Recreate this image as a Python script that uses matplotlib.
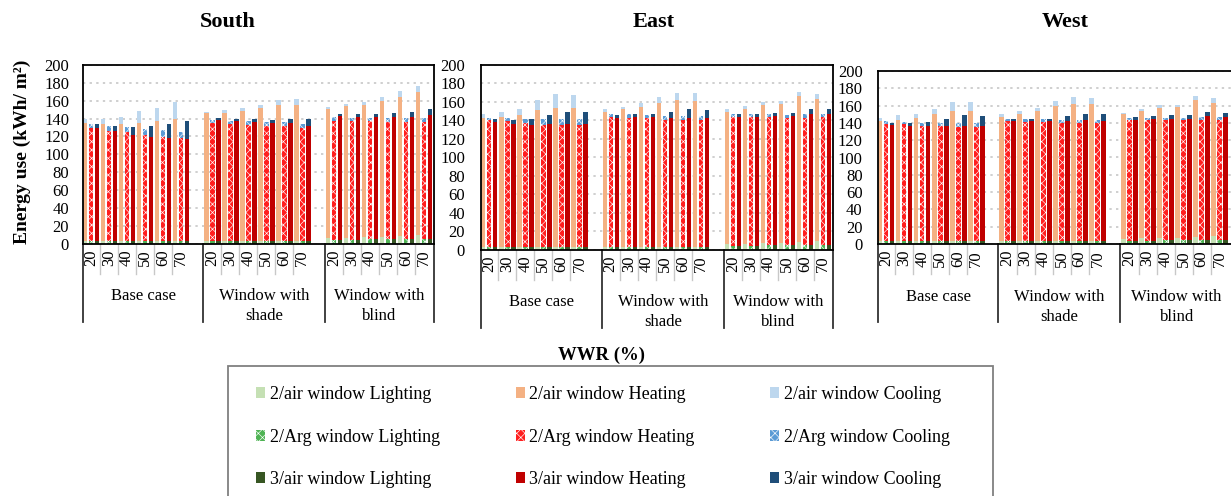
import matplotlib
matplotlib.use('Agg')
import matplotlib.pyplot as plt
from matplotlib.patches import Patch, Rectangle
from matplotlib.lines import Line2D
import matplotlib.transforms as mtransforms
import numpy as np

plt.rcParams['font.family'] = ['Liberation Serif', 'DejaVu Serif']
plt.rcParams['hatch.linewidth'] = 0.45

# ---------------- data ----------------
panels = ['South', 'East', 'West']
wwr_labels = ['20', '30', '40', '50', '60', '70']
group_labels = ['Base case', 'Window with\nshade', 'Window with\nblind']
windows = ['2/air window', '2/Arg window', '3/air window']
components = ['Lighting', 'Heating', 'Cooling']

# each list: Base case (20..70), Window with shade (20..70), Window with blind (20..70)
south_2air_light = [3, 3, 3, 3, 3, 3, 3, 3, 3, 3, 3, 3, 6, 6.5, 7, 7.5, 8.5, 9]
south_2air_heat = [132, 131, 130.5, 131.5, 134, 137, 143, 143, 146, 149, 152.5, 152.5, 144.5, 148, 148, 152.1, 155.7, 161.3]
south_2air_cool = [5, 6, 8.5, 13.5, 15, 18, 1.5, 4, 3, 3.5, 5, 6.5, 2, 1.7, 3.9, 5, 6.8, 6.7]
south_2arg_light = [3, 3, 3, 3, 3, 3, 3, 3, 3, 3, 3, 3, 4, 4, 4.5, 4.5, 5, 5]
south_2arg_heat = [126, 123.5, 121.5, 119, 116.5, 115.3, 132, 130.5, 129.5, 128.2, 128.2, 126.2, 133.5, 132.8, 132.3, 131.5, 130.6, 130.6]
south_2arg_cool = [4.5, 5, 5.5, 6, 7.7, 6.7, 3.8, 4.1, 5, 4.8, 4.8, 4.5, 3.9, 4.2, 4.2, 4.6, 5, 5]
south_3air_light = [3, 3, 3, 3, 3, 3, 3, 3, 3, 3, 3, 3, 4, 4, 4.5, 4.5, 5, 5]
south_3air_heat = [126, 122.5, 119, 116, 115.5, 114.4, 135, 133.7, 132.8, 132.2, 132, 129, 139, 138.1, 137.2, 136.8, 136.7, 138.6]
south_3air_cool = [4.5, 5.7, 8.5, 12.5, 15, 19.6, 3, 3.3, 3.5, 3.4, 5, 7, 2, 3, 3.4, 4.6, 5.7, 6.9]

east_2air_light = [3, 3, 3, 3, 3, 3, 3, 3, 3, 3, 3, 3, 6, 6.5, 7, 7.5, 8.5, 9]
east_2air_heat = [140, 140.5, 143, 148.5, 150.6, 150.6, 146, 148.9, 151.5, 155.5, 159, 158, 143.4, 146.1, 149.6, 149.9, 157.6, 153.8]
east_2air_cool = [4, 5.7, 6.8, 11.1, 14.6, 13.4, 2.9, 2.9, 4.7, 7.3, 8, 8.4, 2.9, 3.3, 3.7, 3.6, 5.1, 5.5]
east_2arg_light = [3, 3, 3, 3, 3, 3, 3, 3, 3, 3, 3, 3, 4, 4, 4.5, 4.5, 5, 5]
east_2arg_heat = [137.3, 135.8, 134.5, 132.4, 132, 132, 140.5, 140, 139.8, 137.6, 137.6, 137, 139.9, 139.2, 138.7, 138.3, 137.8, 138.5]
east_2arg_cool = [2.5, 4, 4.3, 5.6, 6, 6, 2.9, 3.4, 2.9, 4, 4, 4.6, 3.3, 3.2, 3.2, 3.2, 3.6, 3.7]
east_3air_light = [3, 3, 3, 3, 3, 3, 3, 3, 3, 3, 3, 3, 4, 4, 4.5, 4.5, 5, 5]
east_3air_heat = [135, 133.3, 132.4, 132.8, 133.3, 133.3, 139.8, 140.2, 140.5, 139.8, 139.8, 139.8, 139.9, 139.9, 140.1, 140.1, 142.2, 141.4]
east_3air_cool = [3.6, 4.5, 5.9, 10.3, 13.1, 13.1, 2.6, 3.2, 3.7, 6.6, 9.1, 8, 3.3, 3.3, 3.3, 3.7, 5.4, 5.5]

west_2air_light = [3, 3, 3, 3, 3, 3, 3, 3, 3, 3, 3, 3, 6, 6.5, 7, 7.5, 8.5, 9]
west_2air_heat = [139.3, 140.8, 143.2, 147.8, 150.8, 150.8, 143.9, 147.8, 150.8, 156.2, 159.3, 159.3, 144, 147.3, 150.7, 151, 157.7, 154.5]
west_2air_cool = [3.5, 5, 4.6, 5.7, 10.4, 10.4, 3.1, 3, 3.9, 5.8, 7.7, 6.9, 1.9, 2, 2.7, 2.7, 5.3, 5.3]
west_2arg_light = [3, 3, 3, 3, 3, 3, 3, 3, 3, 3, 3, 3, 4, 4, 4.5, 4.5, 5, 5]
west_2arg_heat = [136.2, 135.5, 133.5, 133.2, 132.4, 132.4, 138.9, 138.2, 138.2, 137, 137, 137, 139.1, 139.1, 138.6, 138.6, 138.1, 138.1]
west_2arg_cool = [3.1, 2.7, 3.9, 4.2, 5, 5, 3.1, 3.8, 3, 3.8, 3.8, 3.8, 3.1, 3.1, 3.1, 3.1, 3.8, 3.8]
west_3air_light = [3, 3, 3, 3, 3, 3, 3, 3, 3, 3, 3, 3, 4, 4, 4.5, 4.5, 5, 5]
west_3air_heat = [134.3, 133.2, 133.2, 133.2, 133.5, 133.5, 139.3, 139.3, 139.3, 139.3, 140.1, 139.3, 139.8, 140.2, 140.5, 140.5, 142.7, 141.9]
west_3air_cool = [3.1, 4.2, 5, 8.8, 12.3, 11.2, 1.9, 2.7, 2.7, 6.2, 7.7, 7.7, 3.1, 3.5, 3.8, 4.6, 5, 5]

panel_data = {
    'South': [(south_2air_light, south_2air_heat, south_2air_cool),
              (south_2arg_light, south_2arg_heat, south_2arg_cool),
              (south_3air_light, south_3air_heat, south_3air_cool)],
    'East': [(east_2air_light, east_2air_heat, east_2air_cool),
             (east_2arg_light, east_2arg_heat, east_2arg_cool),
             (east_3air_light, east_3air_heat, east_3air_cool)],
    'West': [(west_2air_light, west_2air_heat, west_2air_cool),
             (west_2arg_light, west_2arg_heat, west_2arg_cool),
             (west_3air_light, west_3air_heat, west_3air_cool)],
}

# ---------------- styles ----------------
styles = [
    [('#c5e0b4', None), ('#f4b183', None), ('#bdd7ee', None)],
    [('#4fb354', 'xxxx'), ('#ff1f1f', 'xxxx'), ('#5b9bd5', 'xxxx')],
    [('#375623', None), ('#c00000', None), ('#1f4e79', None)],
]

W, H = 1231, 496
fig = plt.figure(figsize=(W / 100, H / 100), dpi=100)

def fx(px):
    return px / W

def fy(py):
    return 1 - py / H

# axes rect in pixels: left, top, right, bottom
axes_px = {'South': (83, 65, 434, 243.5), 'East': (481, 65, 833, 249.5), 'West': (878, 71, 1233, 244)}
xmax = {'South': 58.5, 'East': 58.5, 'West': 59.1}
title_px = {'South': (228, 22), 'East': (654, 22), 'West': (1065, 22)}
sep_bottom_px = {'South': 322, 'East': 328, 'West': 322}
label_pad_pt = {'South': 10, 'East': 11.5, 'West': 11}
group_off = [0.0, 20.2, 40.5]
bar_w = 0.74

for p in panels:
    l, t, r, b = axes_px[p]
    ax = fig.add_axes([fx(l), fy(b), fx(r) - fx(l), (b - t) / H])
    hpx = b - t
    ax.set_xlim(0, xmax[p])
    ax.set_ylim(0, 200)
    ax.set_yticks(np.arange(0, 201, 20))
    ax.set_xticks([])
    ax.tick_params(axis='y', length=0, pad=label_pad_pt[p], labelsize=12)
    ax.yaxis.grid(True, color='#cfcfcf', linestyle=(0, (1.2, 2.2)), linewidth=1.4)
    ax.set_axisbelow(True)
    for s in ax.spines.values():
        s.set_linewidth(1.3)
        s.set_color('black')

    for wi, (light, heat, cool) in enumerate(panel_data[p]):
        xs = np.array([group_off[i // 6] + 3 * (i % 6) + wi for i in range(18)]) + bar_w / 2
        light = np.array(light, float)
        heat = np.array(heat, float)
        cool = np.array(cool, float)
        bottoms = [np.zeros(18), light, light + heat]
        for ci, vals in enumerate([light, heat, cool]):
            col, hatch = styles[wi][ci]
            if hatch:
                ax.bar(xs, vals, bar_w, bottom=bottoms[ci], color=col, edgecolor='white',
                       linewidth=0, hatch=hatch, zorder=2)
            else:
                ax.bar(xs, vals, bar_w, bottom=bottoms[ci], color=col, edgecolor='none',
                       linewidth=0, zorder=2)

    trans = mtransforms.blended_transform_factory(ax.transData, ax.transAxes)
    # category labels and ticks
    for g in range(3):
        for c in range(6):
            xc = group_off[g] + 3 * c + 1.35
            ax.text(xc, -6 / hpx, wwr_labels[c], rotation=90, ha='center', va='top',
                    fontsize=12, transform=trans)
            if c < 5:
                xt = group_off[g] + 3 * (c + 1) - 0.13
                ax.add_line(Line2D([xt, xt], [0, -30 / hpx], color='#c8c8c8', lw=1.0,
                                   transform=trans, clip_on=False))
    seps = [0, group_off[1] - 0.15, group_off[2] - 0.15, xmax[p]]
    for xsep in seps:
        ax.add_line(Line2D([xsep, xsep], [0, -(sep_bottom_px[p] - b) / hpx], color='#333333',
                           lw=1.3, transform=trans, clip_on=False))
    for g in range(3):
        xc = (seps[g] + seps[g + 1]) / 2
        ax.text(xc, -45 / hpx, group_labels[g], ha='center', va='top', fontsize=12,
                linespacing=1.3, transform=trans)

    tx, ty = title_px[p]
    fig.text(fx(tx), fy(ty), p, ha='center', va='center', fontsize=16, fontweight='bold')

fig.text(fx(22), fy(152), 'Energy use (kWh/ m²)', rotation=90, ha='center', va='center',
         fontsize=14, fontweight='bold')
fig.text(fx(601), fy(355), 'WWR (%)', ha='center', va='center', fontsize=13.5, fontweight='bold')

# legend
fig.add_artist(Rectangle((fx(228), fy(520)), fx(993) - fx(228), (520 - 366) / H,
                         transform=fig.transFigure, fill=False, edgecolor='#808080', lw=1.3))
handles, labels = [], []
for ci in range(3):
    for wi in range(3):
        col, hatch = styles[wi][ci]
        if hatch:
            handles.append(Patch(facecolor=col, edgecolor='white', linewidth=0, hatch=hatch))
        else:
            handles.append(Patch(facecolor=col, edgecolor='none', linewidth=0))
        labels.append(f'{windows[wi]} {components[ci]}')
fig.legend(handles, labels, ncol=3, loc='upper left', bbox_to_anchor=(fx(256), fy(386)),
           frameon=False, fontsize=13, handlelength=0.5, handleheight=0.55, handletextpad=0.25,
           columnspacing=4.2, labelspacing=1.42, borderpad=0, borderaxespad=0)

fig.savefig('out.png', dpi=100)
